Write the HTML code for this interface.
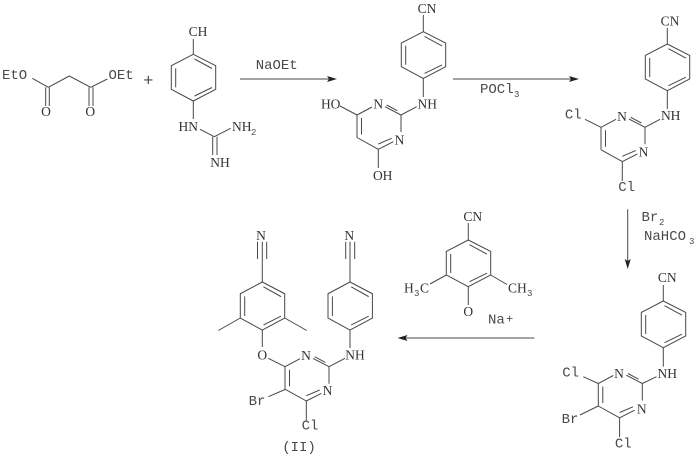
<!DOCTYPE html>
<html>
<head>
<meta charset="utf-8">
<style>
html,body{margin:0;padding:0;background:#fff;width:699px;height:460px;overflow:hidden}
svg{display:block}
line,polyline{stroke:#484848;stroke-width:1;fill:none}
text{font-family:"Liberation Mono","Liberation Serif",monospace;font-size:14px;fill:#4a4a4a;dominant-baseline:central}
.f{font-family:"Liberation Serif",serif;font-size:13.5px;fill:#333}
.m{text-anchor:middle}
.s{font-size:9px}
</style>
</head>
<body>
<svg width="699" height="460" viewBox="0 0 699 460" xmlns="http://www.w3.org/2000/svg">
<defs>
<g id="ring">
<polyline points="0,0 22.4,11.4 22.4,35 0,46.7 -22,35 -22,11.4 0,0"/>
<line x1="1.2" y1="4.7" x2="18.7" y2="14.2"/>
<line x1="-17.6" y1="14" x2="-17.6" y2="33"/>
<line x1="1.2" y1="41.7" x2="18.7" y2="33.2"/>
</g>
<g id="pyr">
<line x1="0" y1="0" x2="-16" y2="-8.3"/>
<line x1="-3.7" y1="-4.3" x2="-14.3" y2="-10"/>
<line x1="-44" y1="0" x2="-29" y2="-8"/>
<line x1="-44" y1="0" x2="-44" y2="22.5"/>
<line x1="-39.5" y1="3" x2="-39.5" y2="19.5"/>
<line x1="-44" y1="22.5" x2="-22.7" y2="34.3"/>
<line x1="-22.7" y1="34.3" x2="-7.7" y2="26.7"/>
<line x1="-22.7" y1="29" x2="-9.3" y2="23.3"/>
<line x1="0" y1="0" x2="0" y2="17"/>
</g>
</defs>

<!-- diethyl malonate -->
<text x="2" y="76">EtO</text>
<line x1="32.3" y1="78.3" x2="48.3" y2="87.3"/>
<line x1="48.3" y1="87.3" x2="69.3" y2="76"/>
<line x1="69.3" y1="76" x2="90.7" y2="87.3"/>
<line x1="90.7" y1="87.3" x2="107.3" y2="79"/>
<line x1="45.7" y1="87.3" x2="45.7" y2="106"/>
<line x1="49.3" y1="87.3" x2="49.3" y2="106"/>
<line x1="89" y1="87.3" x2="89" y2="106"/>
<line x1="93" y1="87.3" x2="93" y2="106"/>
<text class="m f" x="46" y="111.5">O</text>
<text class="m f" x="90.3" y="111.5">O</text>
<text x="108.5" y="76">OEt</text>
<text class="m" x="148.3" y="82" style="font-size:17px">+</text>

<!-- guanidine -->
<text class="m f" x="198" y="31.5">CH</text>
<line x1="193.3" y1="39" x2="193.3" y2="54.3"/>
<use href="#ring" x="193.3" y="54.3"/>
<line x1="193.3" y1="101" x2="193.3" y2="119"/>
<text class="m f" x="188.3" y="126.5">HN</text>
<line x1="200" y1="129.3" x2="214.3" y2="136.7"/>
<line x1="214.3" y1="136.7" x2="230.7" y2="128.3"/>
<text class="f" x="232" y="126.5">NH</text>
<text class="s" x="251" y="133">2</text>
<line x1="212.7" y1="136.7" x2="212.7" y2="155"/>
<line x1="217" y1="136.7" x2="217" y2="155"/>
<text class="m f" x="220" y="162.5">NH</text>

<!-- arrow 1 -->
<line x1="240" y1="79" x2="331" y2="79"/>
<polygon points="337,79 327,76 329,79 327,82" fill="#222"/>
<text class="m" x="276.7" y="66">NaOEt</text>

<!-- dihydroxy -->
<text class="m f" x="427" y="8.5">CN</text>
<line x1="423.3" y1="15" x2="423.3" y2="31.7"/>
<use href="#ring" x="423.3" y="31.7"/>
<line x1="423.3" y1="78.4" x2="423.3" y2="97"/>
<text class="m f" x="427.3" y="104">NH</text>
<line x1="416.7" y1="106.7" x2="401" y2="115"/>
<use href="#pyr" x="401" y="115"/>
<text class="m f" x="378.3" y="104">N</text>
<text class="m f" x="399.5" y="140">N</text>
<text class="m f" x="330.7" y="104">HO</text>
<line x1="340" y1="106" x2="357" y2="115"/>
<line x1="378.3" y1="149.3" x2="378.3" y2="168"/>
<text class="m f" x="382.7" y="175.5">OH</text>

<!-- arrow 2 -->
<line x1="453" y1="79" x2="573" y2="79"/>
<polygon points="579,79 569,76 571,79 569,82" fill="#222"/>
<text x="480" y="90">POCl</text>
<text class="s" x="514" y="95">3</text>

<!-- dichloro -->
<text class="m f" x="670" y="21">CN</text>
<line x1="667.3" y1="28" x2="667.3" y2="44"/>
<use href="#ring" x="667.3" y="44"/>
<line x1="667.3" y1="90" x2="667.3" y2="109"/>
<text class="m f" x="670.7" y="115.7">NH</text>
<line x1="660" y1="119.3" x2="645" y2="127.3"/>
<use href="#pyr" x="645" y="127.3"/>
<text class="m f" x="622" y="116.5">N</text>
<text class="m f" x="643.5" y="152">N</text>
<text class="m" x="573.3" y="115.5">Cl</text>
<line x1="585" y1="119.3" x2="601" y2="127.3"/>
<line x1="622.3" y1="161.6" x2="622.3" y2="181"/>
<text class="m" x="626.7" y="188">Cl</text>

<!-- arrow 3 -->
<line x1="627.7" y1="209.3" x2="627.7" y2="263"/>
<polygon points="627.7,269 624.7,259 627.7,261 630.7,259" fill="#222"/>
<text x="641.5" y="218">Br</text>
<text class="s" x="659" y="223">2</text>
<text x="644" y="237">NaHCO</text>
<text class="s" x="689" y="242">3</text>

<!-- bromo dichloro -->
<text class="m f" x="667.3" y="277.5">CN</text>
<line x1="663.3" y1="285" x2="663.3" y2="301"/>
<use href="#ring" x="663.3" y="301"/>
<line x1="663.3" y1="347" x2="663.3" y2="366.7"/>
<text class="m f" x="667.3" y="373.3">NH</text>
<line x1="656.5" y1="376.7" x2="642.3" y2="383.5"/>
<use href="#pyr" x="642.3" y="383.5"/>
<text class="m f" x="619" y="373.3">N</text>
<text class="m f" x="641.7" y="409">N</text>
<text class="m" x="570.7" y="373.3">Cl</text>
<line x1="583.3" y1="376.7" x2="598.3" y2="383.5"/>
<line x1="619.6" y1="417.8" x2="619.6" y2="437"/>
<text class="m" x="623.3" y="444.5">Cl</text>
<text class="m" x="570" y="420">Br</text>
<line x1="580" y1="415" x2="598.3" y2="406"/>

<!-- phenoxide -->
<text class="m f" x="472.7" y="216.5">CN</text>
<line x1="468.3" y1="223" x2="468.3" y2="240"/>
<use href="#ring" x="468.3" y="240"/>
<line x1="468.3" y1="286.7" x2="468.3" y2="305"/>
<text class="m f" x="468.3" y="311.5">O</text>
<line x1="490.7" y1="275" x2="507" y2="284.5"/>
<text class="f" x="508" y="288">CH</text>
<text class="s" x="527" y="294">3</text>
<line x1="430" y1="284" x2="446.3" y2="275"/>
<text class="f" x="404" y="288">H</text>
<text class="s" x="414" y="294">3</text>
<text class="f" x="420" y="288">C</text>
<text x="488" y="320.5">Na</text>
<text x="506" y="319.5" style="font-size:12px">+</text>

<!-- arrow 4 -->
<line x1="534.3" y1="338" x2="403" y2="338"/>
<polygon points="397.5,338 407.5,335 405.5,338 407.5,341" fill="#222"/>

<!-- product -->
<text class="m f" x="261" y="235.5">N</text>
<line x1="257.5" y1="241.7" x2="257.5" y2="259"/>
<line x1="262.3" y1="241.7" x2="262.3" y2="282"/>
<line x1="266.7" y1="241.7" x2="266.7" y2="259"/>
<g transform="translate(262.3 282) scale(1 1.03)"><use href="#ring"/></g>
<line x1="240.3" y1="318" x2="218.3" y2="330.5"/>
<line x1="284.7" y1="318" x2="306.7" y2="330.5"/>
<line x1="262.3" y1="330" x2="262.3" y2="347"/>
<text class="m f" x="262.3" y="355">O</text>
<line x1="268.3" y1="358.3" x2="285" y2="366.7"/>

<text class="m f" x="349.3" y="235.5">N</text>
<line x1="345.7" y1="241.7" x2="345.7" y2="259"/>
<line x1="350" y1="241.7" x2="350" y2="282"/>
<line x1="354.7" y1="241.7" x2="354.7" y2="259"/>
<g transform="translate(350 282) scale(1 1.03)"><use href="#ring"/></g>
<line x1="350" y1="330" x2="350" y2="348"/>
<text class="m f" x="355" y="355">NH</text>
<line x1="345" y1="358.3" x2="329" y2="366.7"/>
<use href="#pyr" x="329" y="366.7"/>
<text class="m f" x="306" y="355.5">N</text>
<text class="m f" x="327.5" y="390.5">N</text>
<text class="m" x="257" y="402">Br</text>
<line x1="268.3" y1="396.7" x2="285" y2="389.5"/>
<line x1="306.3" y1="401" x2="306.3" y2="420.5"/>
<text class="m" x="310" y="426.5">Cl</text>
<text class="m" x="299" y="448">(II)</text>
</svg>
</body>
</html>
